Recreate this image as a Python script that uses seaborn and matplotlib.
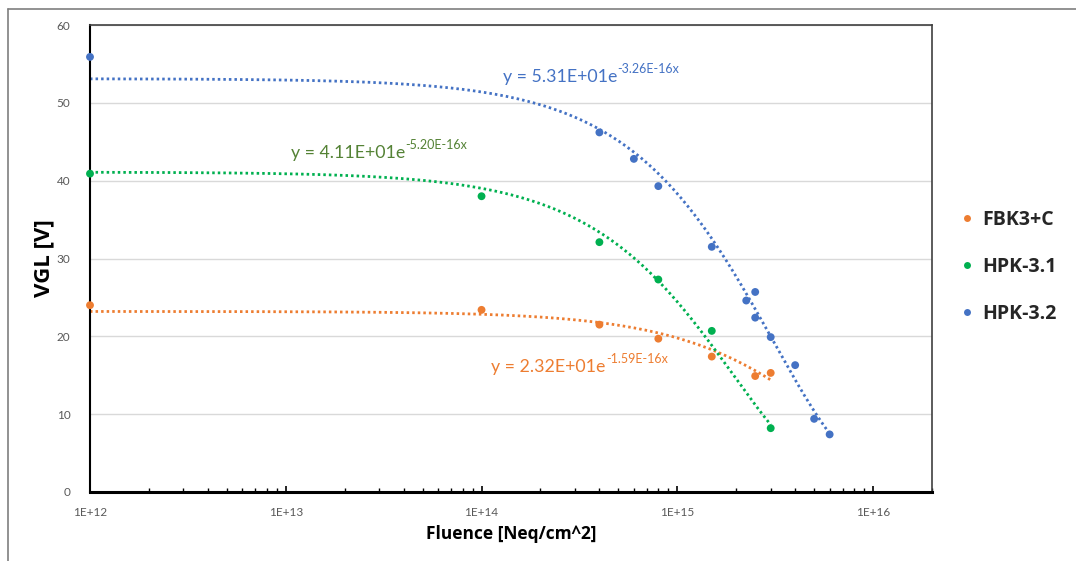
import numpy as np
import pandas as pd
import matplotlib
matplotlib.use("Agg")
import matplotlib.pyplot as plt
import seaborn as sns
from matplotlib.lines import Line2D
from matplotlib.ticker import LogLocator, FuncFormatter, NullFormatter

# ---- data -------------------------------------------------------------
series_names = ["FBK3+C", "HPK-3.1", "HPK-3.2"]

fbk_fluence = [1e12, 1e14, 4e14, 8e14, 1.5e15, 2.5e15, 3e15]
fbk_vgl = [24.0, 23.4, 21.5, 19.7, 17.4, 14.9, 15.3]

hpk31_fluence = [1e12, 1e14, 4e14, 8e14, 1.5e15, 3e15]
hpk31_vgl = [40.9, 38.0, 32.1, 27.3, 20.7, 8.2]

hpk32_fluence = [1e12, 4e14, 6e14, 8e14, 1.5e15, 2.25e15, 2.5e15, 2.5e15,
                 3e15, 4e15, 5e15, 6e15]
hpk32_vgl = [55.9, 46.2, 42.8, 39.3, 31.5, 24.6, 25.7, 22.4, 19.9, 16.3, 9.4, 7.4]

# exponential trendline parameters  y = a * exp(b * x)
fit_a = [23.2, 41.1, 53.1]
fit_b = [-1.59e-16, -5.20e-16, -3.26e-16]
fit_xmax = [3e15, 3e15, 6e15]

colors = ["#ED7D31", "#00B050", "#4472C4"]
label_colors = ["#ED7D31", "#548235", "#4472C4"]

# ---- build tables -----------------------------------------------------
points = pd.concat([
    pd.DataFrame({"Fluence": fbk_fluence, "VGL": fbk_vgl, "Sample": series_names[0]}),
    pd.DataFrame({"Fluence": hpk31_fluence, "VGL": hpk31_vgl, "Sample": series_names[1]}),
    pd.DataFrame({"Fluence": hpk32_fluence, "VGL": hpk32_vgl, "Sample": series_names[2]}),
], ignore_index=True)

fit_frames = []
for name, a, b, xmax in zip(series_names, fit_a, fit_b, fit_xmax):
    xs = np.logspace(12, np.log10(xmax), 300)
    fit_frames.append(pd.DataFrame({"Fluence": xs, "VGL": a * np.exp(b * xs), "Sample": name}))
fits = pd.concat(fit_frames, ignore_index=True)

# ---- style ------------------------------------------------------------
sns.set_theme(style="white")
plt.rcParams["font.family"] = ["Lato", "DejaVu Sans"]
BOLD = {"family": "Open Sans", "weight": "bold"}

fig = plt.figure(figsize=(10.76, 5.61), dpi=100)
ax = fig.add_axes([90 / 1076, 1 - 492 / 561, (932 - 90) / 1076, (492 - 25) / 561])

palette = dict(zip(series_names, colors))

sns.lineplot(data=fits, x="Fluence", y="VGL", hue="Sample", palette=palette,
             ax=ax, legend=False, linewidth=2.0, linestyle=(0, (0.9, 1.1)),
             estimator=None, sort=False, zorder=2)
sns.scatterplot(data=points, x="Fluence", y="VGL", hue="Sample", palette=palette,
                ax=ax, s=32, linewidth=0, zorder=3, legend=False, clip_on=False)

ax.set_xscale("log")
ax.set_xlim(1e12, 2e16)
ax.set_ylim(0, 60)
ax.set_yticks([0, 10, 20, 30, 40, 50, 60])

ax.xaxis.set_major_locator(LogLocator(base=10, numticks=10))
ax.xaxis.set_minor_locator(LogLocator(base=10, subs=np.arange(2, 10), numticks=10))
ax.xaxis.set_major_formatter(FuncFormatter(lambda v, p: "1E+%d" % round(np.log10(v))))
ax.xaxis.set_minor_formatter(NullFormatter())

ax.grid(axis="y", color="#D9D9D9", linewidth=1.0)
ax.grid(axis="x", visible=False)
ax.set_axisbelow(True)

ax.tick_params(axis="x", which="major", direction="in", length=4, width=1.2,
               color="#000000", labelsize=8.5, labelcolor="#595959", pad=11,
               bottom=True)
ax.tick_params(axis="x", which="minor", direction="in", length=3, width=1.0,
               color="#000000", bottom=True)
ax.tick_params(axis="y", which="both", length=0, labelsize=8.5,
               labelcolor="#595959", pad=14)

for side in ["top", "right"]:
    ax.spines[side].set_color("#404040")
    ax.spines[side].set_linewidth(1.2)
ax.spines["left"].set_color("#000000")
ax.spines["left"].set_linewidth(1.5)
ax.spines["bottom"].set_color("#000000")
ax.spines["bottom"].set_linewidth(2.2)

ax.set_xlabel("Fluence [Neq/cm^2]", fontsize=12.5, color="#000000",
              labelpad=5, **BOLD)
ax.set_ylabel("VGL [V]", fontsize=16, color="#000000", labelpad=2, **BOLD)

# trendline equations: base text plus raised exponent
eq_pos = [(1.12e14, 16.0), (1.06e13, 43.6), (1.28e14, 53.3)]
fig.canvas.draw()
renderer = fig.canvas.get_renderer()
for a, b, (ex, ey), col in zip(fit_a, fit_b, eq_pos, label_colors):
    base = "y = %.2fE+01e" % (a / 10)
    mant, pw = ("%.2E" % b).split("E")
    sup = "%sE%sx" % (mant, pw)
    t = ax.text(ex, ey, base, color=col, fontsize=12.8, ha="left", va="center")
    w_pt = t.get_window_extent(renderer).width * 72 / fig.dpi
    ax.annotate(sup, xy=(ex, ey), xycoords="data", xytext=(w_pt + 0.5, 5.8),
                textcoords="offset points", color=col, fontsize=9,
                ha="left", va="center")

# legend
handles = [Line2D([0], [0], marker="o", linestyle="none", markersize=5,
                  markerfacecolor=c, markeredgewidth=0) for c in colors]
fig.legend(handles, series_names, loc="center left",
           bbox_to_anchor=(944 / 1076, 1 - 267 / 561),
           frameon=False, prop={"family": "Open Sans", "weight": "bold", "size": 14},
           handlelength=0.6, handletextpad=0.45, labelspacing=1.4)

# outer chart frame (left and top edges)
fig.add_artist(Line2D([8 / 1076, 8 / 1076], [0, 1 - 9 / 561], transform=fig.transFigure,
                      color="#7F7F7F", linewidth=1.2))
fig.add_artist(Line2D([8 / 1076, 1.0], [1 - 9 / 561, 1 - 9 / 561], transform=fig.transFigure,
                      color="#7F7F7F", linewidth=1.2))

fig.savefig("out.png", dpi=100)
